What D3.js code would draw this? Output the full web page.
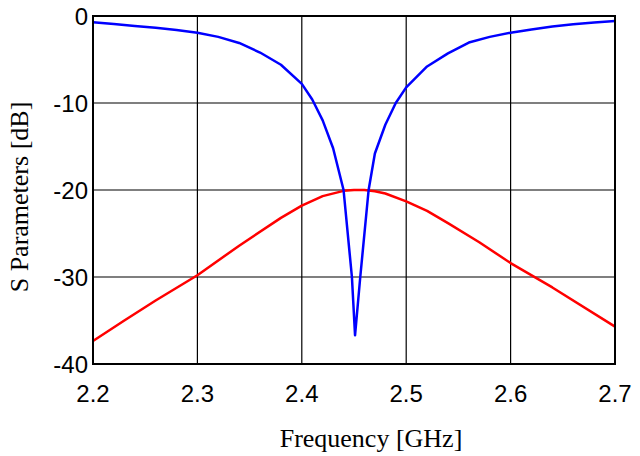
<!DOCTYPE html>
<html>
<head>
<meta charset="utf-8">
<script src="https://cdn.jsdelivr.net/npm/d3@7"></script>
<style>
  body { margin: 0; background: #fff; }
  .tick-label { font-family: "Liberation Sans", Arial, sans-serif; font-size: 24px; fill: #000; }
  .axis-title { font-family: "Liberation Serif", "Times New Roman", serif; font-size: 26px; fill: #000; }
</style>
</head>
<body>
<div class="chart"></div>
<script>
// S11 (blue) and S21 (red), frequency in GHz, values in dB
var freqS11 = [2.20, 2.22, 2.24, 2.26, 2.28, 2.30, 2.32, 2.34, 2.36, 2.38, 2.40, 2.41, 2.42, 2.43, 2.44, 2.448, 2.451,
               2.456, 2.464, 2.47, 2.48, 2.49, 2.50, 2.52, 2.54, 2.56, 2.58, 2.60, 2.62, 2.64, 2.66, 2.68, 2.70];
var s11 = [-0.72, -0.93, -1.15, -1.34, -1.6, -1.92, -2.4, -3.1, -4.2, -5.6, -7.8, -9.6, -12.0, -15.2, -20.0, -30.0, -36.7,
           -30.0, -20.0, -15.8, -12.5, -10.0, -8.2, -5.8, -4.3, -3.05, -2.4, -1.92, -1.55, -1.2, -0.95, -0.75, -0.57];

var freqS21 = [2.20, 2.23, 2.26, 2.30, 2.34, 2.38, 2.40, 2.42, 2.44, 2.45, 2.46, 2.47, 2.48, 2.50, 2.52, 2.54, 2.57, 2.60, 2.64, 2.70];
var s21 = [-37.35, -35.0, -32.7, -29.8, -26.4, -23.2, -21.8, -20.7, -20.1, -20.0, -20.0, -20.15, -20.4, -21.3, -22.4, -23.8, -26.0, -28.4, -31.2, -35.7];

var xTicks = [2.2, 2.3, 2.4, 2.5, 2.6, 2.7];
var yTicks = [0, -10, -20, -30, -40];

var width = 640, height = 456;
var margin = {left: 93, right: 25, top: 16, bottom: 92};

var svg = d3.select("body div.chart").append("svg")
            .attr("width", width).attr("height", height);

var x = d3.scaleLinear().domain([2.2, 2.7]).range([margin.left, width - margin.right]);
var y = d3.scaleLinear().domain([-40, 0]).range([height - margin.bottom, margin.top]);

// grid
svg.append("g").selectAll("line.vg")
    .data(xTicks.slice(1, -1))
    .enter().append("line")
      .attr("x1", function(d) { return x(d); }).attr("x2", function(d) { return x(d); })
      .attr("y1", y(0)).attr("y2", y(-40))
      .attr("stroke", "#000").attr("stroke-width", 1.2);

svg.append("g").selectAll("line.hg")
    .data(yTicks.slice(1, -1))
    .enter().append("line")
      .attr("x1", x(2.2)).attr("x2", x(2.7))
      .attr("y1", function(d) { return y(d); }).attr("y2", function(d) { return y(d); })
      .attr("stroke", "#000").attr("stroke-width", 1.2);

var line = d3.line()
    .x(function(d) { return x(d[0]); })
    .y(function(d) { return y(d[1]); });

svg.append("path")
    .attr("d", line(d3.zip(freqS21, s21)))
    .attr("fill", "none").attr("stroke", "#ff0000").attr("stroke-width", 2.5)
    .attr("stroke-linejoin", "round");

svg.append("path")
    .attr("d", line(d3.zip(freqS11, s11)))
    .attr("fill", "none").attr("stroke", "#0000ff").attr("stroke-width", 2.5)
    .attr("stroke-linejoin", "round");

// frame
svg.append("rect")
    .attr("x", x(2.2)).attr("y", y(0))
    .attr("width", x(2.7) - x(2.2)).attr("height", y(-40) - y(0))
    .attr("fill", "none").attr("stroke", "#000").attr("stroke-width", 2);

// tick labels
svg.selectAll("text.xl")
    .data(xTicks)
    .enter().append("text")
      .attr("class", "tick-label")
      .attr("x", function(d) { return x(d); })
      .attr("y", y(-40) + 38)
      .attr("text-anchor", "middle")
      .text(function(d) { return d3.format(".1f")(d); });

svg.selectAll("text.yl")
    .data(yTicks)
    .enter().append("text")
      .attr("class", "tick-label")
      .attr("x", x(2.2) - 5)
      .attr("y", function(d) { return y(d) + 9; })
      .attr("text-anchor", "end")
      .text(function(d) { return d; });

// axis titles
svg.append("text")
    .attr("class", "axis-title")
    .attr("x", 371).attr("y", 447)
    .attr("text-anchor", "middle")
    .text("Frequency [GHz]");

svg.append("text")
    .attr("class", "axis-title")
    .attr("transform", "translate(28,197) rotate(-90)")
    .attr("text-anchor", "middle")
    .text("S Parameters [dB]");
</script>
</body>
</html>
